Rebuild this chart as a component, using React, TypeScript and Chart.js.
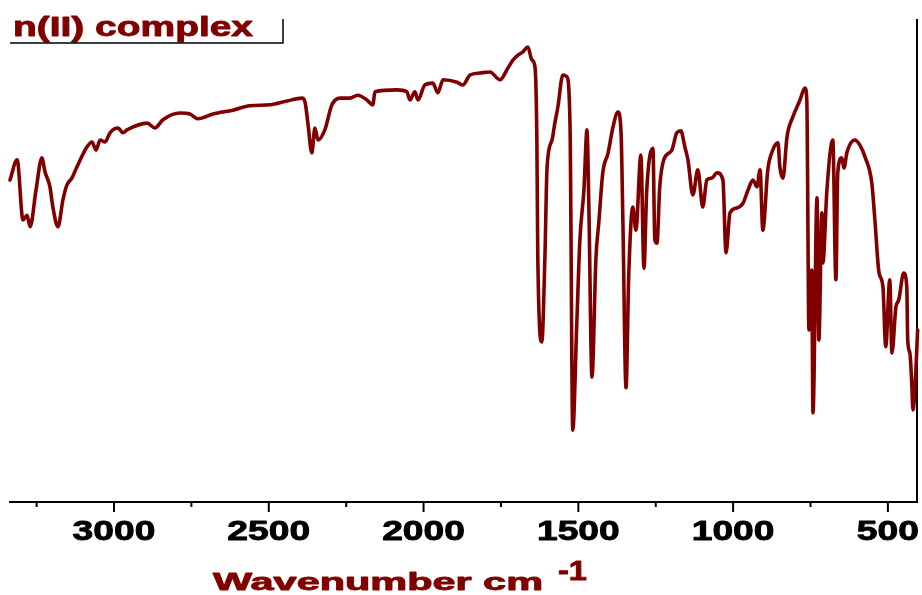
import { useEffect, useRef } from "react";
import { Chart, registerables } from "chart.js";

Chart.register(...registerables);

const wavenumbers = [
  3336, 3313, 3294, 3281, 3271, 3252, 3233, 3223, 3207, 3197,
  3181, 3165, 3152, 3136, 3120, 3087, 3071, 3058, 3045, 3029,
  3013, 2987, 2971, 2958, 2893, 2868, 2842, 2787, 2755, 2729,
  2680, 2616, 2561, 2496, 2441, 2393, 2383, 2373, 2361, 2351,
  2341, 2319, 2296, 2270, 2238, 2212, 2183, 2164, 2157, 2086,
  2054, 2044, 2028, 2018, 1996, 1970, 1954, 1937, 1892, 1873,
  1850, 1818, 1786, 1753, 1728, 1711, 1695, 1679, 1663, 1650,
  1640, 1634, 1631, 1618, 1608, 1601, 1585, 1576, 1566, 1550,
  1537, 1527, 1518, 1505, 1495, 1482, 1472, 1466, 1456, 1443,
  1434, 1421, 1404, 1388, 1372, 1362, 1356, 1346, 1337, 1324,
  1314, 1298, 1288, 1279, 1259, 1253, 1246, 1237, 1224, 1198,
  1182, 1169, 1156, 1146, 1130, 1114, 1098, 1085, 1069, 1052,
  1033, 1023, 1010, 988, 968, 952, 936, 923, 913, 904,
  888, 872, 855, 849, 839, 826, 807, 784, 768, 762,
  755, 746, 742, 729, 723, 713, 710, 697, 678, 668,
  662, 649, 642, 632, 607, 591, 574, 552, 542, 529,
  516, 507, 494, 487, 474, 465, 449, 439, 436, 429,
  423, 419, 410, 404,
];

const transmittance = [
  66.8, 71.0, 58.5, 59.5, 57.1, 64.7, 71.4, 68.5, 65.4, 61.0,
  57.1, 62.7, 65.8, 67.2, 69.5, 73.7, 74.7, 73.0, 75.1, 74.7,
  76.6, 77.6, 76.6, 77.2, 78.6, 77.6, 79.3, 80.7, 80.5, 79.5,
  80.5, 81.3, 82.2, 82.4, 83.2, 83.8, 83.0, 78.2, 72.4, 77.6,
  75.1, 77.2, 82.4, 83.8, 83.8, 84.4, 83.4, 82.4, 85.1, 85.5,
  85.1, 83.4, 85.1, 83.4, 86.5, 86.9, 84.9, 87.6, 87.1, 86.5,
  88.6, 89.0, 89.2, 87.6, 90.0, 91.7, 92.7, 93.4, 94.4, 91.7,
  90.2, 75.1, 50.8, 33.2, 50.8, 69.5, 75.1, 78.6, 82.0, 88.6,
  88.2, 78.6, 14.9, 37.1, 54.4, 64.7, 77.2, 61.2, 25.9, 50.8,
  57.9, 68.3, 72.4, 77.8, 80.9, 76.6, 57.9, 23.7, 47.5, 61.2,
  56.4, 72.0, 48.5, 64.7, 73.4, 54.4, 53.7, 65.4, 71.0, 73.0,
  76.6, 77.0, 73.7, 71.0, 63.7, 68.9, 61.2, 66.8, 67.2, 68.3,
  66.8, 51.7, 60.0, 61.0, 62.0, 64.7, 66.8, 65.4, 68.9, 56.4,
  68.9, 73.0, 74.5, 69.5, 67.2, 75.7, 79.9, 83.4, 85.9, 83.4,
  35.7, 48.1, 18.5, 63.1, 33.6, 60.0, 49.6, 64.7, 75.1, 46.1,
  68.3, 71.4, 69.3, 72.6, 75.1, 74.1, 71.6, 66.2, 58.5, 47.7,
  44.6, 32.2, 46.1, 30.9, 40.5, 41.9, 47.5, 44.6, 33.6, 30.9,
  24.7, 19.1, 26.8, 35.7,
];

const majorTicks = [3000, 2500, 2000, 1500, 1000, 500];
const minorTicks = [3250, 2750, 2250, 1750, 1250, 750];
const seriesLabel = "n(II) complex";
const axisTitle = "Wavenumber cm";
const axisTitleSup = "-1";

const X_MIN = 406;
const X_MAX = 3336;
const LINE_COLOR = "#800000";
const FONT = "'Liberation Sans', Arial, sans-serif";

function drawStretched(
  ctx: CanvasRenderingContext2D,
  text: string,
  x: number,
  baseline: number,
  sx: number,
  align: "left" | "center",
  weight: number
) {
  const w0 = ctx.measureText(text).width;
  ctx.save();
  ctx.translate(x, baseline);
  ctx.scale(sx, 1);
  ctx.textAlign = "left";
  ctx.textBaseline = "alphabetic";
  const ox = align === "center" ? -w0 / 2 : 0;
  ctx.fillText(text, ox, 0);
  if (weight > 0) {
    ctx.strokeStyle = ctx.fillStyle as string;
    ctx.lineWidth = weight;
    ctx.lineJoin = "round";
    ctx.strokeText(text, ox, 0);
  }
  ctx.restore();
}

function fitWidth(ctx: CanvasRenderingContext2D, text: string, target: number) {
  return target / ctx.measureText(text).width;
}

const decorPlugin = {
  id: "decor",
  afterDraw(chart: any) {
    const ctx: CanvasRenderingContext2D = chart.ctx;
    const xs = chart.scales.x;
    const area = chart.chartArea;
    ctx.save();
    ctx.strokeStyle = "#000";
    ctx.lineWidth = 2;
    ctx.beginPath();
    for (const t of majorTicks) {
      const px = xs.getPixelForValue(t);
      ctx.moveTo(px, area.bottom);
      ctx.lineTo(px, area.bottom + 10);
    }
    for (const t of minorTicks) {
      const px = xs.getPixelForValue(t);
      ctx.moveTo(px, area.bottom);
      ctx.lineTo(px, area.bottom + 5);
    }
    ctx.stroke();

    // tick labels
    ctx.fillStyle = "#000";
    ctx.font = `bold 28px ${FONT}`;
    for (const t of majorTicks) {
      const px = xs.getPixelForValue(t);
      drawStretched(ctx, String(t), px, area.bottom + 38, 1.33, "center", 0.9);
    }

    // axis title
    ctx.fillStyle = LINE_COLOR;
    ctx.font = `bold 24px ${FONT}`;
    const sx1 = fitWidth(ctx, axisTitle, 330);
    drawStretched(ctx, axisTitle, 213, area.bottom + 88, sx1, "left", 0.9);
    ctx.font = `bold 28px ${FONT}`;
    const sx2 = fitWidth(ctx, axisTitleSup, 29);
    drawStretched(ctx, axisTitleSup, 558, area.bottom + 78, sx2, "left", 0.9);

    // legend (cut-off box)
    ctx.font = `bold 27px ${FONT}`;
    const sx3 = fitWidth(ctx, seriesLabel, 240);
    drawStretched(ctx, seriesLabel, 13, area.top + 16, sx3, "left", 0.9);
    ctx.strokeStyle = "#000";
    ctx.lineWidth = 1.5;
    ctx.beginPath();
    ctx.moveTo(area.left, area.top + 23);
    ctx.lineTo(283, area.top + 23);
    ctx.lineTo(283, area.top - 1);
    ctx.stroke();
    ctx.restore();
  },
};

export default function App() {
  const canvasRef = useRef<HTMLCanvasElement | null>(null);

  useEffect(() => {
    if (!canvasRef.current) return;
    const points = wavenumbers.map((w, i) => ({ x: w, y: transmittance[i] }));
    const chart = new Chart(canvasRef.current, {
      type: "line",
      data: {
        datasets: [
          {
            label: seriesLabel,
            data: points,
            borderColor: LINE_COLOR,
            backgroundColor: LINE_COLOR,
            borderWidth: 3.6,
            pointRadius: 0,
            cubicInterpolationMode: "monotone",
            borderJoinStyle: "round",
            borderCapStyle: "round",
            clip: 4,
          } as any,
        ],
      },
      options: {
        animation: false,
        responsive: true,
        maintainAspectRatio: false,
        layout: { padding: { left: 10, top: 20, right: 0, bottom: 0 } },
        plugins: {
          legend: { display: false },
          tooltip: { enabled: false },
          title: { display: false },
        },
        scales: {
          x: {
            type: "linear",
            min: X_MIN,
            max: X_MAX,
            reverse: true,
            grid: { display: false },
            ticks: { display: false },
            border: { display: true, color: "#000", width: 2 },
            afterFit: (scale: any) => {
              scale.height = 93;
            },
          },
          y: {
            type: "linear",
            position: "right",
            min: 0,
            max: 100,
            grid: { display: false },
            ticks: { display: false },
            border: { display: true, color: "#000", width: 2 },
            afterFit: (scale: any) => {
              scale.width = 5;
            },
          },
        },
      },
      plugins: [decorPlugin],
    });
    return () => chart.destroy();
  }, []);

  return (
    <div
      style={{
        position: "absolute",
        left: 0,
        top: 0,
        width: 922,
        height: 595,
        background: "#fff",
      }}
    >
      <canvas ref={canvasRef} />
    </div>
  );
}
